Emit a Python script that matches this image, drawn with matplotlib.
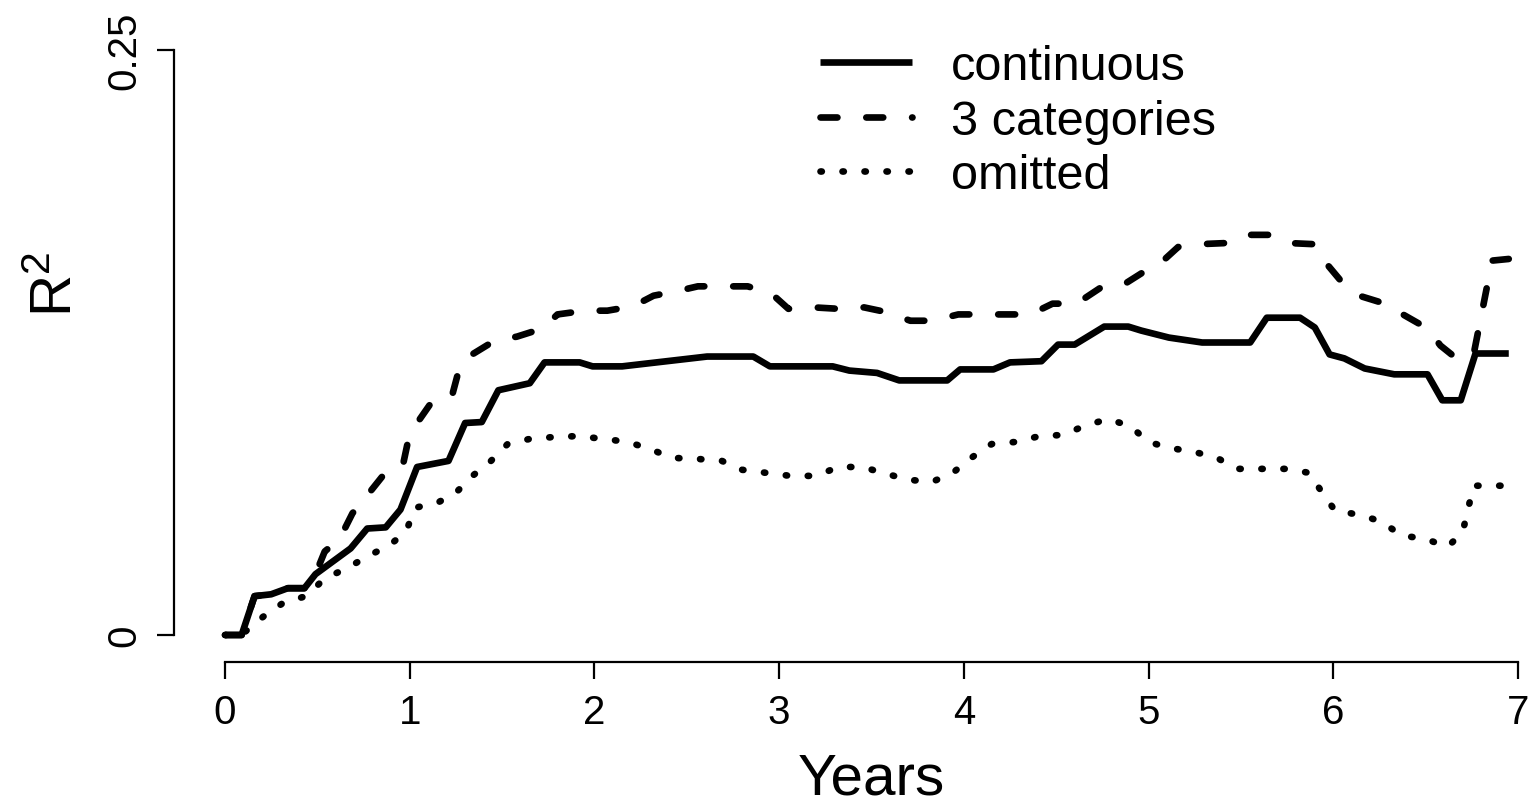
"""
R^2 over follow-up time for three ways of coding the covariate:
continuous, 3 categories, omitted. R-style axes (detached spines).
"""

import matplotlib
matplotlib.use('Agg')
import matplotlib.pyplot as plt

# --- Data (years, R^2) ---
years_cont = [0, 0.09, 0.16, 0.25, 0.34, 0.43, 0.49, 0.585, 0.68, 0.77, 0.87, 0.95,
              1.04, 1.21, 1.30, 1.39, 1.48, 1.65, 1.73, 1.92, 1.99, 2.15, 2.61, 2.86,
              2.95, 3.29, 3.38, 3.53, 3.65, 3.91, 3.98, 4.16, 4.25, 4.42, 4.51, 4.60,
              4.76, 4.89, 4.96, 5.11, 5.29, 5.55, 5.64, 5.82, 5.90, 5.98, 6.06, 6.17,
              6.33, 6.51, 6.59, 6.69, 6.77, 6.95]
r2_cont = [0, 0, 0.0166, 0.0174, 0.020, 0.020, 0.026, 0.0315, 0.037, 0.0455, 0.046, 0.0536,
           0.0718, 0.0744, 0.0906, 0.091, 0.1046, 0.1076, 0.1165, 0.1165, 0.1148, 0.1148, 0.119, 0.119,
           0.1148, 0.1148, 0.113, 0.112, 0.1088, 0.1088, 0.1135, 0.1135, 0.1165, 0.117, 0.1241, 0.1241,
           0.1318, 0.1318, 0.1301, 0.1271, 0.125, 0.125, 0.1356, 0.1356, 0.1314, 0.1199, 0.1182, 0.1139,
           0.1114, 0.1114, 0.1003, 0.1003, 0.1203, 0.1203]

years_cat = [0, 0.09, 0.16, 0.25, 0.34, 0.43, 0.49, 0.54, 0.62, 0.69, 0.76, 0.85, 0.96,
             0.99, 1.04, 1.13, 1.23, 1.27, 1.34, 1.46, 1.58, 1.72, 1.80, 1.95, 2.07,
             2.21, 2.32, 2.45, 2.56, 2.71, 2.83, 2.96, 3.05, 3.19, 3.32, 3.46, 3.58,
             3.71, 3.83, 3.97, 4.10, 4.23, 4.36, 4.48, 4.61, 4.74, 4.85, 4.97, 5.06,
             5.16, 5.27, 5.42, 5.52, 5.66, 5.76, 5.90, 5.96, 6.05, 6.14, 6.28, 6.37,
             6.51, 6.58, 6.67, 6.76, 6.86, 6.95]
r2_cat = [0, 0, 0.0166, 0.0174, 0.020, 0.020, 0.026, 0.0357, 0.041, 0.052, 0.0587, 0.0676, 0.0714,
          0.0825, 0.0906, 0.1008, 0.1025, 0.1144, 0.12, 0.1258, 0.1275, 0.131, 0.137, 0.1386, 0.1386,
          0.1405, 0.145, 0.147, 0.149, 0.149, 0.149, 0.1458, 0.1394, 0.140, 0.1394, 0.140, 0.138,
          0.1343, 0.1343, 0.137, 0.137, 0.137, 0.137, 0.1416, 0.1416, 0.1484, 0.149, 0.155, 0.1586,
          0.1658, 0.167, 0.1675, 0.171, 0.171, 0.1675, 0.167, 0.159, 0.1505, 0.145, 0.1416, 0.1373,
          0.131, 0.1237, 0.118, 0.12, 0.16, 0.1607]

years_omit = [0, 0.09, 0.16, 0.21, 0.32, 0.44, 0.54, 0.66, 0.77, 0.89, 0.98, 1.03, 1.15,
              1.25, 1.34, 1.44, 1.53, 1.65, 1.78, 1.91, 2.05, 2.18, 2.30, 2.42, 2.55,
              2.69, 2.80, 2.93, 3.06, 3.20, 3.32, 3.45, 3.58, 3.70, 3.83, 3.94, 4.04,
              4.15, 4.28, 4.41, 4.54, 4.65, 4.78, 4.90, 5.00, 5.11, 5.25, 5.37, 5.48,
              5.61, 5.74, 5.87, 5.94, 6.01, 6.14, 6.26, 6.37, 6.49, 6.62, 6.70, 6.73,
              6.76, 6.95]
r2_omit = [0, 0, 0.005, 0.008, 0.014, 0.0166, 0.0242, 0.0285, 0.0336, 0.0383, 0.0442, 0.0544, 0.0565,
           0.0608, 0.068, 0.0744, 0.0816, 0.0838, 0.0846, 0.085, 0.0838, 0.0825, 0.0795, 0.0757, 0.0753,
           0.0744, 0.0706, 0.0693, 0.068, 0.068, 0.0718, 0.0718, 0.0689, 0.0663, 0.0655, 0.0693, 0.0757,
           0.0816, 0.0825, 0.085, 0.0855, 0.0893, 0.0923, 0.0893, 0.0825, 0.080, 0.0782, 0.0757, 0.071,
           0.071, 0.071, 0.0693, 0.0608, 0.0531, 0.0514, 0.0485, 0.0425, 0.0412, 0.0378, 0.0438, 0.054,
           0.0638, 0.0638]

x_ticks = [0, 1, 2, 3, 4, 5, 6, 7]
y_ticks = [0, 0.25]
y_ticklabels = ['0', '0.25']
labels = ['continuous', '3 categories', 'omitted']

W, H, DPI = 1538, 804, 100


def main():
    plt.rcParams['font.family'] = ['Liberation Sans', 'DejaVu Sans']
    plt.rcParams['mathtext.default'] = 'regular'

    fig = plt.figure(figsize=(W / DPI, H / DPI), dpi=DPI)
    # plot region: x 0..7 -> px 225..1518, y 0..0.25 -> px 636..51
    ax = fig.add_axes([225 / W, 1 - 636 / H, (1518 - 225) / W, (636 - 51) / H])
    ax.set_xlim(0, 7)
    ax.set_ylim(0, 0.25)

    lw = 4.8
    ax.plot(years_cont, r2_cont, color='black', lw=lw, solid_joinstyle='round',
            solid_capstyle='butt', label=labels[0], clip_on=False)
    ax.plot(years_cat, r2_cat, color='black', lw=lw, linestyle=(0, (2.54, 4.33)),
            dash_capstyle='round', dash_joinstyle='round', label=labels[1], clip_on=False)
    ax.plot(years_omit, r2_omit, color='black', lw=lw, linestyle=(0, (0.2, 3.1)),
            dash_capstyle='round', label=labels[2], clip_on=False)

    # R-style detached axes
    for side in ('top', 'right'):
        ax.spines[side].set_visible(False)
    ax.spines['left'].set_position(('outward', 51 * 0.72))
    ax.spines['bottom'].set_position(('outward', 27 * 0.72))
    ax.spines['left'].set_bounds(0, 0.25)
    ax.spines['bottom'].set_bounds(0, 7)
    for side in ('left', 'bottom'):
        ax.spines[side].set_linewidth(1.6)

    ax.set_xticks(x_ticks)
    ax.set_xticklabels([str(t) for t in x_ticks])
    ax.set_yticks(y_ticks)
    ax.set_yticklabels(y_ticklabels, rotation=90, va='center')
    ax.tick_params(axis='both', direction='out', length=12, width=1.6,
                   labelsize=29, pad=10)

    ax.set_xlabel('Years', fontsize=42)
    ax.xaxis.set_label_coords(0.5, -(795 - 636) / 585)
    ax.xaxis.label.set_va('baseline')
    ax.set_ylabel('R$^2$', fontsize=42)
    ax.yaxis.set_label_coords(-(225 - 72) / 1293, (636 - 284) / 585)
    ax.yaxis.label.set_va('baseline')

    ax.legend(loc='upper left', bbox_to_anchor=(820 / W, 1 - 45 / H),
              bbox_transform=fig.transFigure, frameon=False, fontsize=35,
              handlelength=1.9, handletextpad=0.8, labelspacing=0.2,
              borderpad=0, borderaxespad=0)

    fig.savefig('out.png', dpi=DPI)
    plt.close(fig)


if __name__ == '__main__':
    main()
